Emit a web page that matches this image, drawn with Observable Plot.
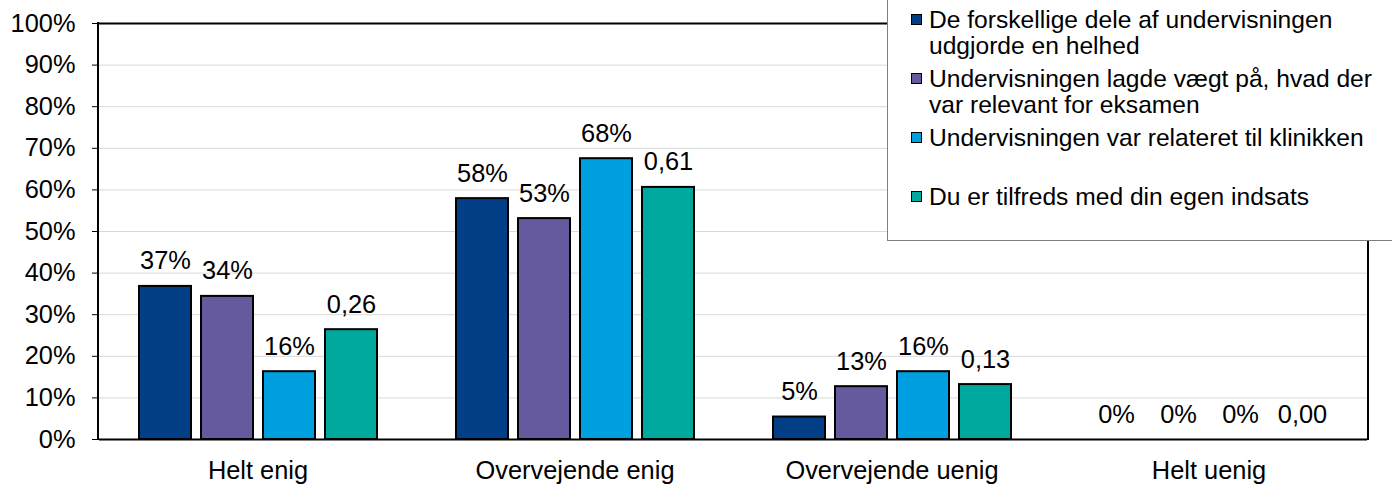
<!DOCTYPE html>
<html><head><meta charset="utf-8">
<script src="https://cdn.jsdelivr.net/npm/d3@7"></script>
<script src="https://cdn.jsdelivr.net/npm/@observablehq/plot@0.6"></script>
<style>
html,body{margin:0;padding:0;background:#fff;overflow:hidden;}
#wrap{position:relative;width:1392px;height:486px;font-family:"Liberation Sans",Arial,sans-serif;}
#legend{position:absolute;left:887px;top:-1px;width:520px;height:242px;box-sizing:border-box;border:1px solid #7f7f7f;background:#fff;padding-top:7px;}
.item{display:flex;align-items:flex-start;margin-bottom:7px;height:52px;}
.sw{width:9px;height:9px;border:1.5px solid #000;margin-left:23px;margin-top:7px;margin-right:7px;flex:none;}
.lbl{font-size:24.6px;line-height:26px;width:452px;color:#000;}
</style></head>
<body>
<div id="wrap"><div id="chart"></div><div id="legend"></div></div>
<script>
const categories = ["Helt enig", "Overvejende enig", "Overvejende uenig", "Helt uenig"];
const seriesNames = [
  "De forskellige dele af undervisningen udgjorde en helhed",
  "Undervisningen lagde vægt på, hvad der var relevant for eksamen",
  "Undervisningen var relateret til klinikken",
  "Du er tilfreds med din egen indsats"
];
const seriesColors = ["#023f86", "#665a9e", "#009fe0", "#00a99d"];
const seriesLabelFormat = ["pct", "pct", "pct", "dec"];
const helhed = [0.368, 0.579, 0.054, 0];
const eksamen = [0.344, 0.531, 0.127, 0];
const klinikken = [0.163, 0.675, 0.163, 0];
const indsats = [0.264, 0.606, 0.132, 0];
const yTicks = [0, 0.1, 0.2, 0.3, 0.4, 0.5, 0.6, 0.7, 0.8, 0.9, 1];

const seriesValues = [helhed, eksamen, klinikken, indsats];
const fmt = (v, f) => f === "pct" ? Math.round(v * 100) + "%" : v.toFixed(2).replace(".", ",");
const rows = [];
seriesNames.forEach((s, i) => categories.forEach((c, j) => {
  rows.push({category: c, series: s, value: seriesValues[i][j], label: fmt(seriesValues[i][j], seriesLabelFormat[i])});
}));

const W = 1392, H = 486, ML = 98, MR = 24, MT = 23, MB = 47;
const font = '"Liberation Sans", Arial, sans-serif';
const chart = Plot.plot({
  width: W, height: H, marginLeft: ML, marginRight: MR, marginTop: MT, marginBottom: MB,
  style: {fontFamily: font, fontSize: "25.4px", color: "#000", background: "#fff", overflow: "visible"},
  fx: {domain: categories, padding: 0, label: null, axis: "bottom", tickSize: 0, tickPadding: 21},
  x: {domain: seriesNames, paddingInner: 0.168, paddingOuter: 0.624, axis: null},
  y: {domain: [0, 1], ticks: yTicks, tickFormat: d => Math.round(d * 100) + "%", tickSize: 7, tickPadding: 17, label: null},
  color: {domain: seriesNames, range: seriesColors},
  marks: [
    Plot.ruleY(yTicks.slice(1, -1), {stroke: "#d9d9d9", strokeWidth: 1}),
    Plot.barY(rows, {fx: "category", x: "series", y: "value", fill: "series", stroke: "#000", strokeWidth: 2}),
    Plot.text(rows, {fx: "category", x: "series", y: "value", text: "label", lineAnchor: "bottom", dy: -17, fontSize: 25.4, fill: "#000"}),
    Plot.ruleY([0, 1], {stroke: "#000", strokeWidth: 2})
  ]
});
const svg = d3.select(chart);
[ML, W - MR].forEach(x => {
  svg.append("line").attr("x1", x).attr("x2", x).attr("y1", MT - 1).attr("y2", H - MB + 1)
    .attr("stroke", "#000").attr("stroke-width", 2);
});
document.getElementById("chart").appendChild(chart);

const legend = d3.select("#legend");
seriesNames.forEach((s, i) => {
  const it = legend.append("div").attr("class", "item");
  it.append("div").attr("class", "sw").style("background", seriesColors[i]);
  it.append("div").attr("class", "lbl").text(s);
});
</script>
</body></html>
